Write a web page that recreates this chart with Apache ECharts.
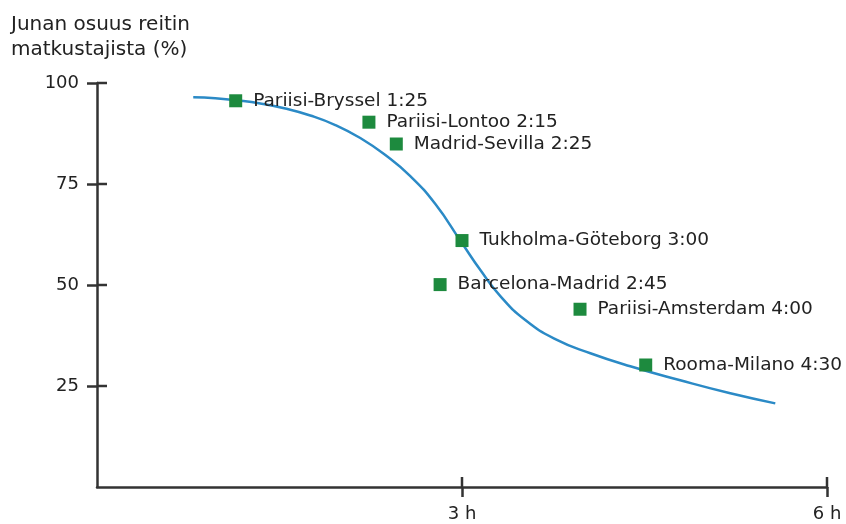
<!DOCTYPE html>
<html>
<head>
<meta charset="utf-8">
<script src="https://cdn.jsdelivr.net/npm/echarts@6/dist/echarts.min.js"></script>
<style>
html,body{margin:0;padding:0;background:#fff;}
#chart{width:846px;height:524px;}
</style>
</head>
<body>
<div id="chart"></div>
<script>
// Curve (travel time in hours, train share %)
const curveHours = [0.791, 0.972, 1.145, 1.342, 1.548, 1.753, 1.959, 2.164, 2.370, 2.575, 2.781, 2.994, 3.151, 3.315, 3.520, 3.767, 4.055, 4.383, 4.794, 5.205, 5.575];
const curveShare = [96.46, 96.24, 95.72, 94.93, 93.69, 91.96, 89.60, 86.38, 82.17, 76.96, 70.03, 60.64, 53.70, 47.26, 41.32, 36.61, 33.11, 29.88, 26.41, 23.19, 20.70];

// Routes
const routeNames = ['Pariisi-Bryssel 1:25', 'Pariisi-Lontoo 2:15', 'Madrid-Sevilla 2:25', 'Tukholma-Göteborg 3:00', 'Barcelona-Madrid 2:45', 'Pariisi-Amsterdam 4:00', 'Rooma-Milano 4:30'];
const routeHours = [1.14, 2.235, 2.46, 3.0, 2.82, 3.97, 4.51];
const routeShare = [95.6, 90.3, 84.9, 61.0, 50.1, 44.0, 30.2];

// Axis ticks
const yTickValues = [25, 50, 75, 100];
const xTickValues = [3, 6];
const xTickLabels = ['3 h', '6 h'];
const titleText = 'Junan osuus reitin\nmatkustajista (%)';

const FONT = 'DejaVu Sans';
const AX = '#333333';
const TXT = '#222222';

const chart = echarts.init(document.getElementById('chart'), null, {renderer: 'canvas'});

const tickStyle = {color: AX, width: 2.5};

chart.setOption({
  animation: false,
  backgroundColor: '#ffffff',
  title: {
    text: titleText,
    left: 11, top: 12, padding: 0,
    textStyle: {fontFamily: FONT, fontSize: 20, fontWeight: 'normal', color: TXT, lineHeight: 25}
  },
  grid: {left: 97, right: 19, top: 83, bottom: 37, containLabel: false},
  xAxis: {
    type: 'value', min: 0, max: 6, interval: 3, position: 'bottom',
    axisLine: {show: true, onZero: false, lineStyle: {color: AX, width: 2.5}},
    splitLine: {show: false},
    axisTick: {show: true, length: 10, inside: false, customValues: xTickValues, lineStyle: tickStyle},
    axisLabel: {show: true, customValues: xTickValues, margin: 18, fontFamily: FONT, fontSize: 18, color: TXT,
      formatter: function (v) { const i = xTickValues.indexOf(v); return i >= 0 ? xTickLabels[i] : ''; }}
  },
  yAxis: {
    type: 'value', min: 0, max: 100, interval: 25, position: 'left',
    axisLine: {show: true, onZero: false, lineStyle: {color: AX, width: 2.5}},
    splitLine: {show: false},
    axisTick: {show: true, length: 10, inside: false, customValues: yTickValues, lineStyle: tickStyle},
    axisLabel: {show: true, customValues: yTickValues, margin: 18, fontFamily: FONT, fontSize: 18, color: TXT}
  },
  series: [
    {
      type: 'line',
      data: curveHours.map((h, i) => [h, curveShare[i]]),
      smooth: true,
      showSymbol: false,
      symbol: 'none',
      lineStyle: {color: '#2b8ac6', width: 2.5},
      z: 2
    },
    {
      // inner half of the y-axis ticks
      type: 'scatter',
      data: yTickValues.map(v => [0, v]),
      symbol: 'rect',
      symbolSize: [10, 2.5],
      symbolOffset: [5, 0],
      itemStyle: {color: AX, opacity: 1},
      clip: false,
      silent: true,
      z: 4
    },
    {
      // inner half of the x-axis ticks
      type: 'scatter',
      data: xTickValues.map(v => [v, 0]),
      symbol: 'rect',
      symbolSize: [2.5, 10],
      symbolOffset: [0, -5],
      itemStyle: {color: AX, opacity: 1},
      clip: false,
      silent: true,
      z: 4
    },
    {
      type: 'scatter',
      data: routeHours.map((h, i) => ({value: [h, routeShare[i]], name: routeNames[i]})),
      symbol: 'rect',
      symbolSize: 13,
      itemStyle: {color: '#1d8a3e', opacity: 1},
      label: {
        show: true, position: 'right', distance: 11,
        formatter: p => p.name,
        fontFamily: FONT, fontSize: 18.5, color: TXT
      },
      z: 3
    }
  ]
});
</script>
</body>
</html>
